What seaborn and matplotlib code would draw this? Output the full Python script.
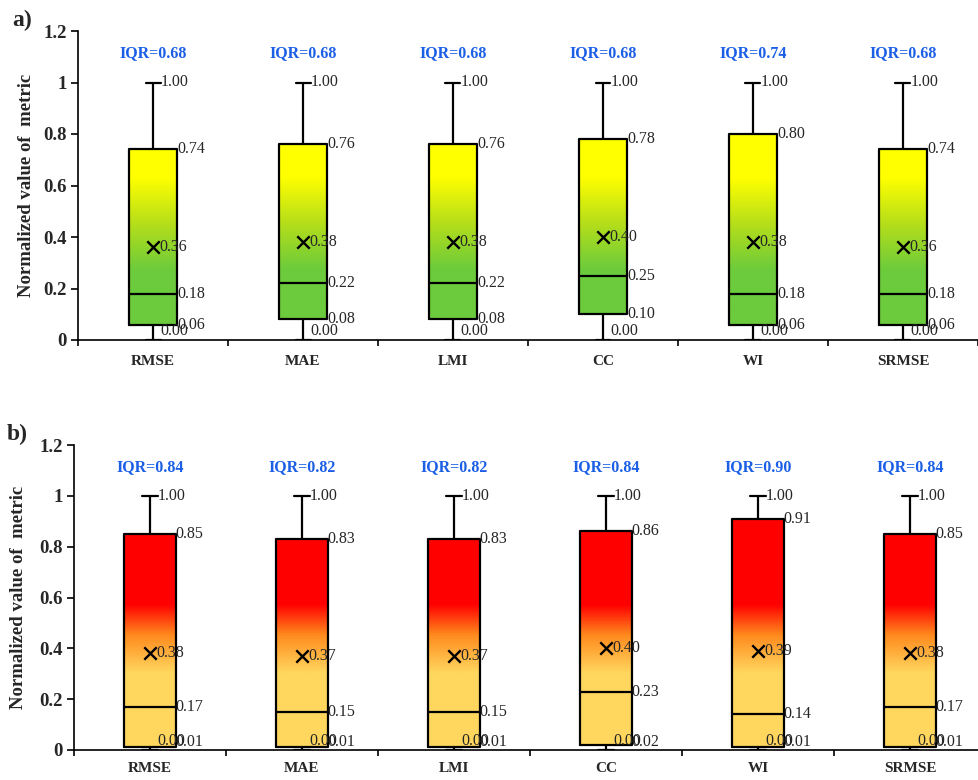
import numpy as np
import pandas as pd
import matplotlib
matplotlib.use("Agg")
import matplotlib.pyplot as plt
from matplotlib.colors import LinearSegmentedColormap
from matplotlib.ticker import FuncFormatter
import seaborn as sns

# ---- data: five-number summaries, means per metric ----
metrics = ["RMSE", "MAE", "LMI", "CC", "WI", "SRMSE"]

a_min = [0.00, 0.00, 0.00, 0.00, 0.00, 0.00]
a_q1 = [0.06, 0.08, 0.08, 0.10, 0.06, 0.06]
a_med = [0.18, 0.22, 0.22, 0.25, 0.18, 0.18]
a_q3 = [0.74, 0.76, 0.76, 0.78, 0.80, 0.74]
a_max = [1.00, 1.00, 1.00, 1.00, 1.00, 1.00]
a_mean = [0.36, 0.38, 0.38, 0.40, 0.38, 0.36]

b_min = [0.00, 0.00, 0.00, 0.00, 0.00, 0.00]
b_q1 = [0.01, 0.01, 0.01, 0.02, 0.01, 0.01]
b_med = [0.17, 0.15, 0.15, 0.23, 0.14, 0.17]
b_q3 = [0.85, 0.83, 0.83, 0.86, 0.91, 0.85]
b_max = [1.00, 1.00, 1.00, 1.00, 1.00, 1.00]
b_mean = [0.38, 0.37, 0.37, 0.40, 0.39, 0.38]

sns.set_theme(style="ticks")
plt.rcParams["font.family"] = ["Liberation Serif", "DejaVu Serif"]
plt.rcParams["axes.edgecolor"] = "black"

IQR_COLOR = "#1A5FE6"
VAL_FS = 11.5

# vertical colour ramps, stops given in data units (0 .. 1.2)
green_yellow = LinearSegmentedColormap.from_list(
    "gy", [(0.0, "#6CCB3C"), (0.27 / 1.2, "#6CCB3C"), (0.45 / 1.2, "#B5DE1A"),
           (0.63 / 1.2, "#FFFF00"), (1.0, "#FFFF00")])
yellow_red = LinearSegmentedColormap.from_list(
    "yr", [(0.0, "#FFD75E"), (0.30 / 1.2, "#FFD75E"), (0.45 / 1.2, "#FF8A1E"),
           (0.57 / 1.2, "#FF0000"), (1.0, "#FF0000")])


def draw_panel(ax, lo, q1, med, q3, hi, mean, cmap, width, xpad):
    n = len(metrics)
    # five-number summaries as long-form table; quartiles of 5 points reproduce them
    df = pd.DataFrame({
        "metric": np.repeat(metrics, 5),
        "value": np.column_stack([lo, q1, med, q3, hi]).ravel(),
    })
    sns.boxplot(data=df, x="metric", y="value", order=metrics, whis=np.inf,
                width=width, fill=False, color="black", linewidth=1.6,
                capwidths=0.1, ax=ax, zorder=3)

    # gradient fill inside each box
    for i in range(n):
        ys = np.linspace(q3[i], q1[i], 300)
        img = cmap(ys / 1.2)[:, None, :]
        ax.imshow(img, extent=(i - width / 2, i + width / 2, q1[i], q3[i]),
                  aspect="auto", zorder=1, interpolation="bilinear")

    # mean markers
    sns.scatterplot(x=np.arange(n), y=mean, marker="x", s=80, color="black",
                    linewidth=1.7, ax=ax, zorder=5)

    # value annotations
    for i in range(n):
        right = i + width / 2
        ax.text(i + 0.05, hi[i], f"{hi[i]:.2f}", ha="left", va="center", fontsize=VAL_FS, zorder=6)
        ax.text(right, q3[i], f"{q3[i]:.2f}", ha="left", va="center", fontsize=VAL_FS, zorder=6)
        ax.text(right, med[i], f"{med[i]:.2f}", ha="left", va="center", fontsize=VAL_FS, zorder=6)
        ax.text(right, max(q1[i], 0.03), f"{q1[i]:.2f}", ha="left", va="center",
                fontsize=VAL_FS, zorder=6)
        ax.text(i + 0.05, lo[i] + 0.003, f"{lo[i]:.2f}", ha="left", va="bottom",
                fontsize=VAL_FS, zorder=6)
        ax.text(i + 0.04, mean[i], f"{mean[i]:.2f}", ha="left", va="center",
                fontsize=VAL_FS, zorder=6)
        ax.text(i, 1.115, f"IQR={q3[i] - q1[i]:.2f}", ha="center", va="center",
                fontsize=11.5, fontweight="bold", color=IQR_COLOR, zorder=6)

    ax.set_xlim(-0.5, n - 0.5)
    ax.set_ylim(0, 1.2)
    ax.set_yticks([0, 0.2, 0.4, 0.6, 0.8, 1.0, 1.2])
    ax.yaxis.set_major_formatter(FuncFormatter(lambda v, p: f"{v:g}"))
    ax.set_xticks(np.arange(n))
    ax.set_xticklabels(metrics, fontweight="bold", fontsize=11)
    ax.set_xticks(np.arange(-0.5, n, 1.0), minor=True)
    ax.tick_params(axis="x", which="major", length=0, pad=xpad)
    ax.tick_params(axis="x", which="minor", length=4, width=1.2, color="black")
    ax.tick_params(axis="y", length=5, width=1.2, color="black", pad=3, labelsize=13.5)
    for t in ax.get_yticklabels():
        t.set_fontweight("bold")
    ax.set_xlabel("")
    ax.set_ylabel("Normalized value of  metric", fontsize=13.5, fontweight="bold")
    sns.despine(ax=ax)
    for s in ("left", "bottom"):
        ax.spines[s].set_linewidth(1.2)
        ax.spines[s].set_color("black")
    ax.set_facecolor("white")


fig = plt.figure(figsize=(9.79, 7.80), dpi=100)
fig.patch.set_facecolor("white")
W, H = 979.0, 780.0
ax_a = fig.add_axes([78 / W, 1 - 340 / H, 900 / W, 309 / H])
ax_b = fig.add_axes([74 / W, 1 - 750 / H, 912 / W, 305 / H])

draw_panel(ax_a, a_min, a_q1, a_med, a_q3, a_max, a_mean, green_yellow, 0.32, 11)
draw_panel(ax_b, b_min, b_q1, b_med, b_q3, b_max, b_mean, yellow_red, 0.34, 8.5)

ax_a.yaxis.set_label_coords(-0.048, 0.5)
ax_b.yaxis.set_label_coords(-0.052, 0.5)

fig.text(12 / W, 1 - 20 / H, "a)", fontsize=17, fontweight="bold", ha="left", va="center")
fig.text(7 / W, 1 - 434 / H, "b)", fontsize=17, fontweight="bold", ha="left", va="center")

fig.savefig("out.png", dpi=100, facecolor="white")
